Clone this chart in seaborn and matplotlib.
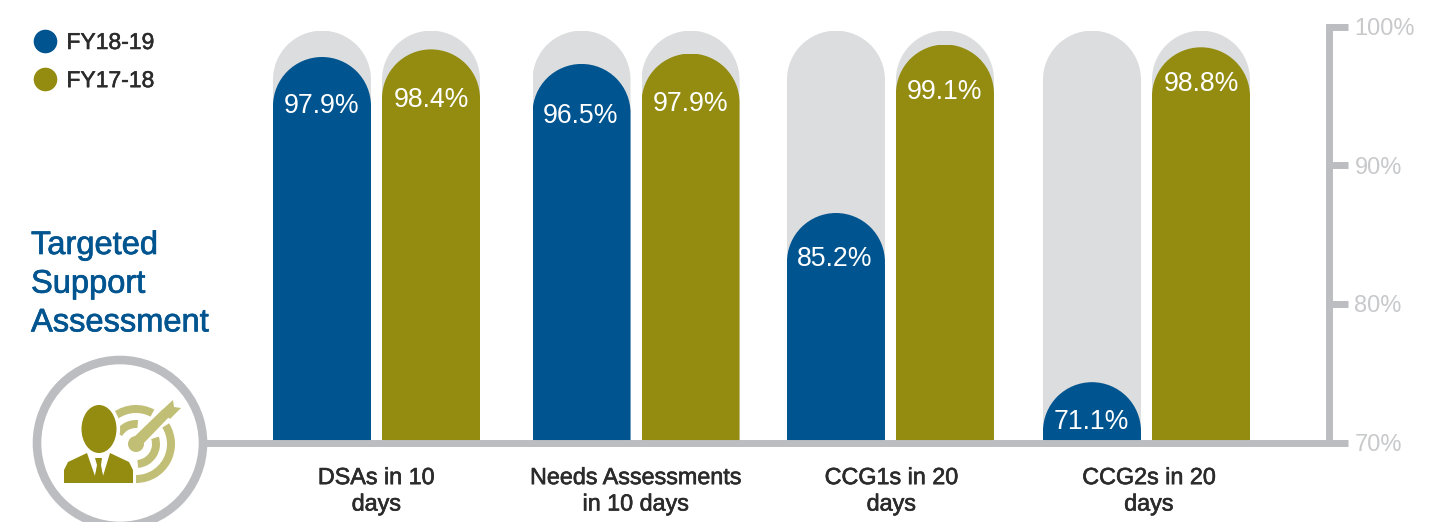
import numpy as np
import pandas as pd
import seaborn as sns
import matplotlib
matplotlib.use("Agg")
import matplotlib.pyplot as plt
from matplotlib.lines import Line2D
from matplotlib.path import Path
from matplotlib.patches import Circle, Ellipse, Polygon, Wedge
from matplotlib.transforms import Affine2D
import matplotlib.patheffects as pe

# ---- data -------------------------------------------------------------
categories = ["DSAs in 10\ndays", "Needs Assessments\nin 10 days",
              "CCG1s in 20\ndays", "CCG2s in 20\ndays"]
series_names = ["FY18-19", "FY17-18"]
# values printed on the bars
fy1819_labels = [97.9, 96.5, 85.2, 71.1]
fy1718_labels = [98.4, 97.9, 99.1, 98.8]
# bar tops as drawn against the printed axis (the original is not to scale)
fy1819_drawn = [97.80, 97.30, 86.55, 74.35]
fy1718_drawn = [98.35, 98.05, 98.70, 98.50]
track_drawn = [99.70, 99.70, 99.70, 99.70]
y_ticks = [70, 80, 90, 100]

# ---- style ------------------------------------------------------------
BLUE, OLIVE = "#00548f", "#938c10"
TRACK, RULE, TICKTXT = "#dcddde", "#bbbdc0", "#c8c9cb"
LIGHT_OLIVE = "#c1bf75"
DARK = "#2b2b2b"
W, H = 1449, 522
group_nudge_px = [0, 3.2, 1.3, 1.0]
tick_nudge_px = [0, 0, 1.0, 2.5]
label_drop_px = [[47, 50, 44, 38], [49, 48, 45, 35]]

sns.set_theme(style="white")
plt.rcParams["font.family"] = ["Liberation Sans", "DejaVu Sans"]

fig = plt.figure(figsize=(W / 100, H / 100), dpi=100)
left, right, top, bottom = 207, 1329.5, 26.5, 442.5
ax = fig.add_axes([left / W, 1 - bottom / H, (right - left) / W, (bottom - top) / H])

long = pd.DataFrame({
    "cat": categories * 2,
    "series": [series_names[0]] * 4 + [series_names[1]] * 4,
    "drawn": fy1819_drawn + fy1718_drawn,
    "track": track_drawn * 2,
})
bar_kw = dict(data=long, x="cat", hue="series", hue_order=series_names, width=0.8505,
              gap=0.101, legend=False, saturation=1, ax=ax)
sns.barplot(y="track", palette=[TRACK, TRACK], zorder=1, **bar_kw)
n_track = len(ax.patches)
sns.barplot(y="drawn", palette=[BLUE, OLIVE], zorder=2, **bar_kw)

px_per_x = 256.33
ax.set_xlim((left - 376.5) / px_per_x, (right - 376.5) / px_per_x)
ax.set_ylim(70, 100)
px_per_y = (bottom - top) / 30


def rounded_clip(x0, w, h):
    """Full-height shape with a semicircular top, in data units."""
    rx = w / 2
    ry = rx * px_per_x / px_per_y
    arc = Path.arc(0, 180).transformed(Affine2D().scale(rx, ry).translate(x0 + rx, h - ry))
    verts = np.vstack([[x0 + w, 0], arc.vertices, [x0, 0], [x0 + w, 0]])
    codes = np.concatenate([[Path.MOVETO, Path.LINETO], arc.codes[1:],
                            [Path.LINETO, Path.CLOSEPOLY]])
    return Path(verts, codes)


for p in ax.patches:
    g = int(round(p.get_x() + p.get_width() / 2))
    p.set_x(p.get_x() + group_nudge_px[g] / px_per_x)
    p.set_linewidth(0)
    p.set_clip_path(rounded_clip(p.get_x(), p.get_width(), p.get_height()), ax.transData)

# value labels
for s, vals in enumerate([fy1819_labels, fy1718_labels]):
    tops = [fy1819_drawn, fy1718_drawn][s]
    for g, v in enumerate(vals):
        bar = ax.patches[n_track + s * 4 + g]
        ax.annotate(f"{v:.1f}%", (bar.get_x() + bar.get_width() / 2, tops[g]),
                    xytext=(-0.6 if s == 0 else 0, -(label_drop_px[s][g] + 2) * 0.72),
                    textcoords="offset points",
                    ha="center", va="center", color="white", fontsize=19.2, zorder=5)

# axes furniture
for side in ["top", "left"]:
    ax.spines[side].set_visible(False)
for side in ["bottom", "right"]:
    ax.spines[side].set_visible(True)
    ax.spines[side].set_color(RULE)
    ax.spines[side].set_linewidth(5)
    ax.spines[side].set_capstyle("projecting")
    ax.spines[side].set_zorder(3)
ax.set_xlabel("")
ax.set_ylabel("")
ax.set_xticks([g + (n + m) / px_per_x for g, (n, m) in enumerate(zip(group_nudge_px, tick_nudge_px))])
ax.set_xticklabels(categories, fontsize=16.8, color=DARK, linespacing=1.19,
                   path_effects=[pe.withStroke(linewidth=0.45, foreground=DARK)])
ax.tick_params(axis="x", length=0, pad=17)
ax.yaxis.tick_right()
ax.set_yticks(y_ticks)
ax.set_yticklabels([f"{t}%" for t in y_ticks], fontsize=17, color=TICKTXT)
ax.tick_params(axis="y", length=14, width=5, color=RULE, pad=4, right=True, left=False)
for t in ax.yaxis.get_major_ticks():
    t.tick2line.set_zorder(3)

# legend
handles = [Line2D([], [], marker="o", ls="", ms=17, mfc=c, mec=c, mew=0) for c in (BLUE, OLIVE)]
leg = fig.legend(handles, series_names, loc="upper left", bbox_to_anchor=(27 / W, 1 - 31 / H),
                 frameon=False, fontsize=16.5, labelcolor=DARK, handletextpad=0.12,
                 labelspacing=0.66, borderpad=0, borderaxespad=0, handlelength=1.6)
for t in leg.get_texts():
    t.set_path_effects([pe.withStroke(linewidth=0.4, foreground=DARK)])

# overlay in pixel coordinates: heading and icon
ov = fig.add_axes([0, 0, 1, 1], zorder=10)
ov.set_xlim(0, W)
ov.set_ylim(H, 0)
ov.axis("off")
ov.patch.set_alpha(0)
for i, line in enumerate(["Targeted", "Support", "Assessment"]):
    ov.text(31, 245.5 + i * 38.7, line, color=BLUE, fontsize=23.5, va="center", ha="left",
            path_effects=[pe.withStroke(linewidth=0.5, foreground=BLUE)])
ov.add_patch(Circle((120, 443), 83, fc="white", ec=RULE, lw=6.2))
# target
cx, cy = 136, 444
for r, w, spans in [(39, 8, [(-90, 32), (62, 125)]), (24, 8, [(-85, 18), (85, 150)])]:
    for a, b in spans:
        ov.add_patch(Wedge((cx, cy), r, -b, -a, width=w, fc=LIGHT_OLIVE, ec="none"))
ov.add_patch(Circle((cx, cy), 8, fc=LIGHT_OLIVE, ec="none"))
ov.add_patch(Polygon([(cx - 3, cy - 6), (162, 410), (169, 417), (cx + 5, cy + 2)], fc=LIGHT_OLIVE, ec="none"))
ov.add_patch(Polygon([(161, 411), (173, 400), (174, 407), (181, 408), (170, 419)], fc=LIGHT_OLIVE, ec="none"))
# person
torso = [(64, 483), (64, 470), (68, 462), (87, 453), (110, 453), (129, 462), (133, 470), (133, 483)]
ov.add_patch(Polygon(torso, fc="white", ec="white", lw=4))
ov.add_patch(Ellipse((99, 429), 38, 50, fc="white", ec="white", lw=3))
ov.add_patch(Ellipse((99, 429), 35, 48, fc=OLIVE, ec="none"))
ov.add_patch(Polygon(torso, fc=OLIVE, ec="none"))
ov.add_patch(Polygon([(87, 453), (110, 453), (103, 476), (99, 460), (95, 476)], fc="white", ec="none"))
ov.add_patch(Polygon([(95, 458), (102, 458), (101, 465), (103, 476), (99, 481), (95, 476), (97, 465)], fc=OLIVE, ec="none"))

fig.savefig("out.png", dpi=100)
